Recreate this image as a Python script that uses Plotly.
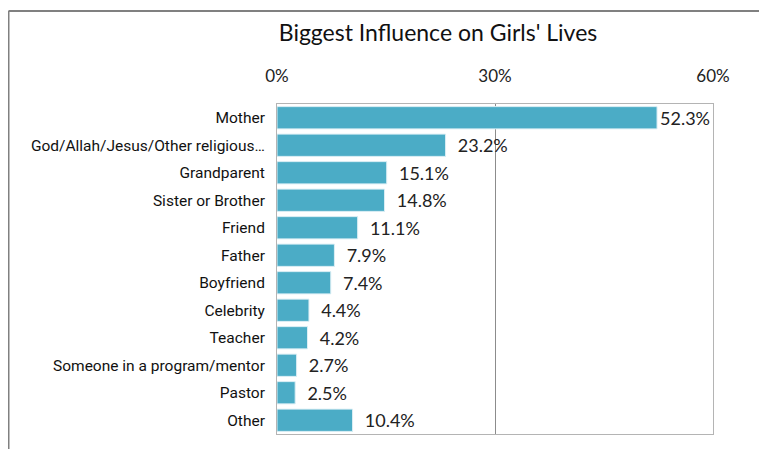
import plotly.graph_objects as go

categories = ["Mother", "God/Allah/Jesus/Other religious…", "Grandparent", "Sister or Brother",
              "Friend", "Father", "Boyfriend", "Celebrity", "Teacher",
              "Someone in a program/mentor", "Pastor", "Other"]
values = [52.3, 23.2, 15.1, 14.8, 11.1, 7.9, 7.4, 4.4, 4.2, 2.7, 2.5, 10.4]
tick_vals = [0, 30, 60]
tick_text = ["0%", "30%", "60%"]
title_text = "Biggest Influence on Girls' Lives"

# page body has an 8px margin; figure coordinates below are offset accordingly
W, H = 767, 449
L, R, T, B = 269, 62, 96, 23
pw, ph = W - L - R, H - T - B

fig = go.Figure(go.Bar(
    y=categories, x=values, orientation="h",
    marker=dict(color="#4BACC6", line=dict(color="#DDEFF5", width=1)),
    text=[f"  {v:.1f}%" if i else f"{v:.1f}%" for i, v in enumerate(values)],
    textposition="outside",
    textfont=dict(family="Lato, Open Sans, sans-serif", size=18, color="#222222"),
    cliponaxis=False,
))

fig.update_layout(
    width=W, height=H, margin=dict(l=L, r=R, t=T, b=B),
    paper_bgcolor="white", plot_bgcolor="white",
    bargap=0.19, showlegend=False,
    title=dict(text=title_text, x=(430 - L) / pw, xref="paper", xanchor="center",
               y=1 - 25 / H, yref="container", yanchor="middle",
               font=dict(family="Lato, Open Sans, sans-serif", size=23, color="#111111")),
    xaxis=dict(side="top", range=[0, 60], tickvals=tick_vals, ticktext=tick_text,
               showgrid=True, gridcolor="#8C8C8C", gridwidth=1, zeroline=False,
               showline=True, linecolor="#B4B4B4", mirror=True, ticks="",
               ticklabelstandoff=14,
               tickfont=dict(family="Lato, Open Sans, sans-serif", size=17, color="#222222")),
    yaxis=dict(autorange="reversed", showgrid=False, showline=True, linecolor="#B4B4B4",
               mirror=True, ticks="", ticklabelstandoff=8,
               tickfont=dict(family="Roboto, sans-serif", size=15.5, color="#111111")),
    shapes=[
        dict(type="line", xref="paper", yref="paper",
             x0=(0.5 - L) / pw, x1=(W + 5 - L) / pw, y0=(H - B - 3) / ph, y1=(H - B - 3) / ph,
             line=dict(color="#808080", width=2)),
        dict(type="line", xref="paper", yref="paper",
             x0=(0.5 - L) / pw, x1=(0.5 - L) / pw, y0=(H - B - 3) / ph, y1=-0.2,
             line=dict(color="#808080", width=2)),
    ],
)

fig.write_html("out.html")
